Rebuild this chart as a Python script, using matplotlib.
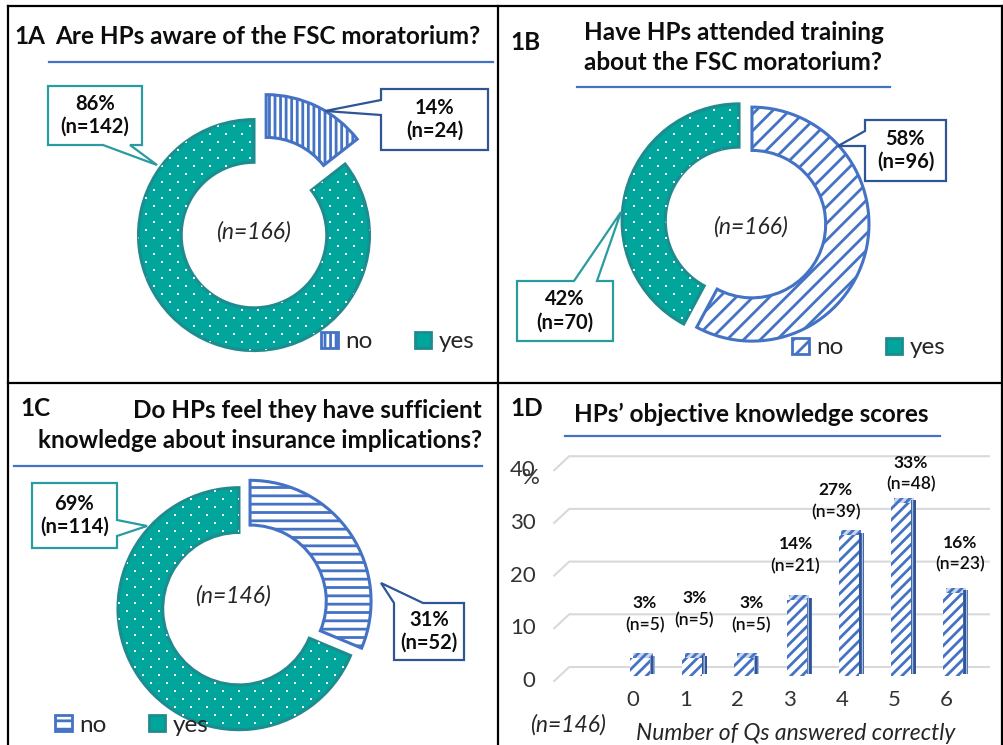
import numpy as np
import matplotlib
matplotlib.use('Agg')
import matplotlib.pyplot as plt
from matplotlib.patches import Polygon, Patch
from matplotlib.transforms import ScaledTranslation

plt.rcParams['font.family'] = ['Lato', 'DejaVu Sans']
plt.rcParams['hatch.linewidth'] = 2.0

# ---- data ----
answer_labels = ['no', 'yes']
aware_n = [24, 142]
aware_pct = [14, 86]
training_n = [96, 70]
training_pct = [58, 42]
insurance_n = [52, 114]
insurance_pct = [31, 69]

score_cats = ['0', '1', '2', '3', '4', '5', '6']
score_vals = [3.4, 3.4, 3.4, 14.4, 26.7, 32.9, 15.8]
score_pct = [3, 3, 3, 14, 27, 33, 16]
score_n = [5, 5, 5, 21, 39, 48, 23]
y_ticks = [0, 10, 20, 30, 40]

BLUE = '#4472C4'
DBLUE = '#2F5597'
TEAL = '#00A59C'
DTEAL = '#1E8B8F'
CTEAL = '#2A9BA0'
INK = '#0D0D0D'
GREY = '#333333'

W, H = 1004, 745
fig = plt.figure(figsize=(W / 100, H / 100), dpi=100)

# overlay in pixel coords for frames, titles, callouts
ov = fig.add_axes([0, 0, 1, 1], zorder=5)
ov.set_xlim(0, W)
ov.set_ylim(H, 0)
ov.axis('off')


def donut(cx, cy, R, counts, explode, hatch):
    lim = 1.45
    ax = fig.add_axes([(cx - lim * R) / W, 1 - (cy + lim * R) / H,
                       2 * lim * R / W, 2 * lim * R / H])
    wedges, _ = ax.pie(counts, startangle=90, counterclock=False,
                       explode=explode, wedgeprops=dict(width=0.37))
    no, yes = wedges
    no.set(facecolor='white', edgecolor=BLUE, hatch=hatch, linewidth=2.2)
    yes.set(facecolor=TEAL, edgecolor=DTEAL, linewidth=2.2)
    # white dot texture on the "yes" slice
    step, row = 16 / R, 8 / R
    gx, gy = np.meshgrid(np.arange(-1.5, 1.5, step), np.arange(-1.5, 1.5, row))
    gx = gx + (np.arange(gy.shape[0])[:, None] % 2) * step / 2
    dots = ax.scatter(gx.ravel(), gy.ravel(), s=3, marker='s', c='white',
                      linewidths=0, zorder=3)
    dots.set_clip_path(yes)
    ax.set_xlim(-lim, lim)
    ax.set_ylim(-lim, lim)
    ax.axis('off')
    return ax


def legend(x, y, hatch):
    h = [Patch(facecolor='white', edgecolor=BLUE, hatch=hatch, linewidth=2),
         Patch(facecolor=TEAL, edgecolor=DTEAL, linewidth=2)]
    fig.legend(h, answer_labels, loc='center left', bbox_to_anchor=(x / W, 1 - y / H),
               ncol=2, frameon=False, fontsize=17.5, handlelength=0.68, handleheight=0.68,
               handletextpad=0.3, columnspacing=1.75, borderaxespad=0, borderpad=0,
               labelcolor='#262626')


def callout(box, side, a, b, tip, txt, ec):
    x0, y0, x1, y1 = box
    if side == 'bottom':
        pts = [(x0, y0), (x1, y0), (x1, y1), (b, y1), tip, (a, y1), (x0, y1)]
    elif side == 'top':
        pts = [(x0, y0), (a, y0), tip, (b, y0), (x1, y0), (x1, y1), (x0, y1)]
    elif side == 'left':
        pts = [(x0, y0), (x1, y0), (x1, y1), (x0, y1), (x0, b), tip, (x0, a)]
    else:
        pts = [(x0, y0), (x1, y0), (x1, a), tip, (x1, b), (x1, y1), (x0, y1)]
    ov.add_patch(Polygon(pts, closed=True, facecolor='white', edgecolor=ec, lw=1.6))
    ov.text((x0 + x1) / 2, (y0 + y1) / 2, txt, ha='center', va='center',
            fontsize=14.5, fontweight='bold', color=INK, linespacing=1.2)


def underline(x0, x1, y):
    ov.plot([x0, x1], [y, y], color=BLUE, lw=1.6)


# ---- frame ----
for xs, ys in [([8, 1002], [6, 6]), ([8, 8], [6, 745]), ([1002, 1002], [6, 745]),
               ([498, 498], [6, 745]), ([8, 1002], [383, 383])]:
    ov.plot(xs, ys, color='black', lw=1.6)

title_kw = dict(fontsize=17.5, fontweight='bold', color=INK, va='center')
center_kw = dict(ha='center', va='center', fontsize=16.5, style='italic', color='#262626')

# ---- 1A ----
ov.text(14, 37, '1A', ha='left', **title_kw)
ov.text(55, 37, 'Are HPs aware of the FSC moratorium?', ha='left', **title_kw)
underline(49, 493, 62)
donut(255, 233, 115.5, aware_n, [0.22, 0.02], '|||')
ov.text(253, 232, '(n=166)', **center_kw)
callout((48, 86, 142, 145), 'bottom', 103, 130, (157, 165),
        f'{aware_pct[1]}%\n(n={aware_n[1]})', CTEAL)
callout((381, 89, 488, 150), 'left', 100, 115, (325, 111),
        f'{aware_pct[0]}%\n(n={aware_n[0]})', DBLUE)
legend(321, 342, '|||')

# ---- 1B ----
ov.text(510, 42, '1B', ha='left', **title_kw)
ov.text(584, 32, 'Have HPs attended training', ha='left', **title_kw)
ov.text(584, 63, 'about the FSC moratorium?', ha='left', **title_kw)
underline(577, 890, 87)
donut(745.5, 222.5, 117, training_n, [0.057, 0.057], '//')
ov.text(750, 227, '(n=166)', **center_kw)
callout((865, 120, 946, 181), 'left', 131, 146, (838, 146),
        f'{training_pct[0]}%\n(n={training_n[0]})', DBLUE)
callout((517, 281, 613, 341), 'top', 574, 597, (621, 212),
        f'{training_pct[1]}%\n(n={training_n[1]})', CTEAL)
legend(792, 348, '//')

# ---- 1C ----
ov.text(20, 408, '1C', ha='left', **title_kw)
ov.text(482, 410, 'Do HPs feel they have sufficient', ha='right', **title_kw)
ov.text(482, 440, 'knowledge about insurance implications?', ha='right', **title_kw)
underline(14, 482, 466)
donut(244.5, 605, 121, insurance_n, [0.055, 0.055], '--')
ov.text(233, 596, '(n=146)', **center_kw)
callout((32, 483, 117, 548), 'right', 520, 536, (147, 526),
        f'{insurance_pct[1]}%\n(n={insurance_n[1]})', CTEAL)
callout((394, 603, 464, 660), 'top', 394, 423, (381, 583),
        f'{insurance_pct[0]}%\n(n={insurance_n[0]})', DBLUE)
legend(55, 725, '--')

# ---- 1D ----
ov.text(510, 408, '1D', ha='left', **title_kw)
ov.text(574, 414, 'HPs\u2019 objective knowledge scores', ha='left', **title_kw)
underline(565, 940, 436)

bx0, bx1, by0, by1 = 540, 1000, 440, 700
X0, PX = 640, 52.2      # pixel of category 0, pixels per category
Y0, PY = 676, 5.27      # pixel of value 0, pixels per unit
axb = fig.add_axes([bx0 / W, 1 - by1 / H, (bx1 - bx0) / W, (by1 - by0) / H])
axb.set_xlim((bx0 - X0) / PX, (bx1 - X0) / PX)
axb.set_ylim((Y0 - by1) / PY, (Y0 - by0) / PY)
axb.axis('off')


def shift(dx, dy):
    return axb.transData + ScaledTranslation(dx / 100, dy / 100, fig.dpi_scale_trans)


back = shift(9.6, 9)
xl, xr = -1.54, 6.5
for t in y_ticks:
    axb.plot([xl - 15 / PX, xl, xr], [t - 14 / PY, t, t], color='#D9D9D9', lw=1.5,
             transform=back, clip_on=False, zorder=1)
    axb.text(xl, t, str(t), transform=shift(-24, -5), ha='right', va='center',
             fontsize=16, color=GREY)

x = np.arange(len(score_vals))
wbar = 20 / PX
axb.bar(x, score_vals, width=wbar, color='white', edgecolor=BLUE, hatch='///',
        linewidth=0, zorder=4)
side = axb.bar(x + wbar / 2, score_vals, width=5 / PX, align='edge', color='#A9BDE3',
               edgecolor=DBLUE, hatch='||||', linewidth=0, zorder=3)
for p in side:
    p.set_transform(shift(0, 2.5))
top = axb.bar(x, [5 / PY] * len(x), bottom=score_vals, width=wbar, color='#C9D6EE',
              edgecolor=BLUE, hatch='////', linewidth=0, zorder=2)
for p in top:
    p.set_transform(shift(2.6, 0))

lbl_dx = [5, 2, 7, -1, -13, 10, 7]
lbl_dy = [55, 60, 55, 56, 45, 40, 50]
for i, v in enumerate(score_vals):
    axb.annotate(f'{score_pct[i]}%', (i, v), xytext=(lbl_dx[i], lbl_dy[i]),
                 textcoords='offset pixels', ha='center', va='center',
                 fontsize=12.5, fontweight='bold', color=INK)
    axb.annotate(f'(n={score_n[i]})', (i, v), xytext=(lbl_dx[i], lbl_dy[i] - 22),
                 textcoords='offset pixels', ha='center', va='center',
                 fontsize=12.5, fontweight='semibold', color=INK)
    axb.text(i, 0, score_cats[i], transform=shift(-7, -24), ha='center', va='center',
             fontsize=16, color=GREY)

ov.text(531, 478, '%', ha='center', va='center', fontsize=16, color=GREY)
ov.text(568, 725, '(n=146)', ha='center', va='center', fontsize=16.5, style='italic', color='#262626')
ov.text(796, 733, 'Number of Qs answered correctly', ha='center', va='center',
        fontsize=16.5, style='italic', color='#262626')

fig.savefig('out.png', dpi=100)
